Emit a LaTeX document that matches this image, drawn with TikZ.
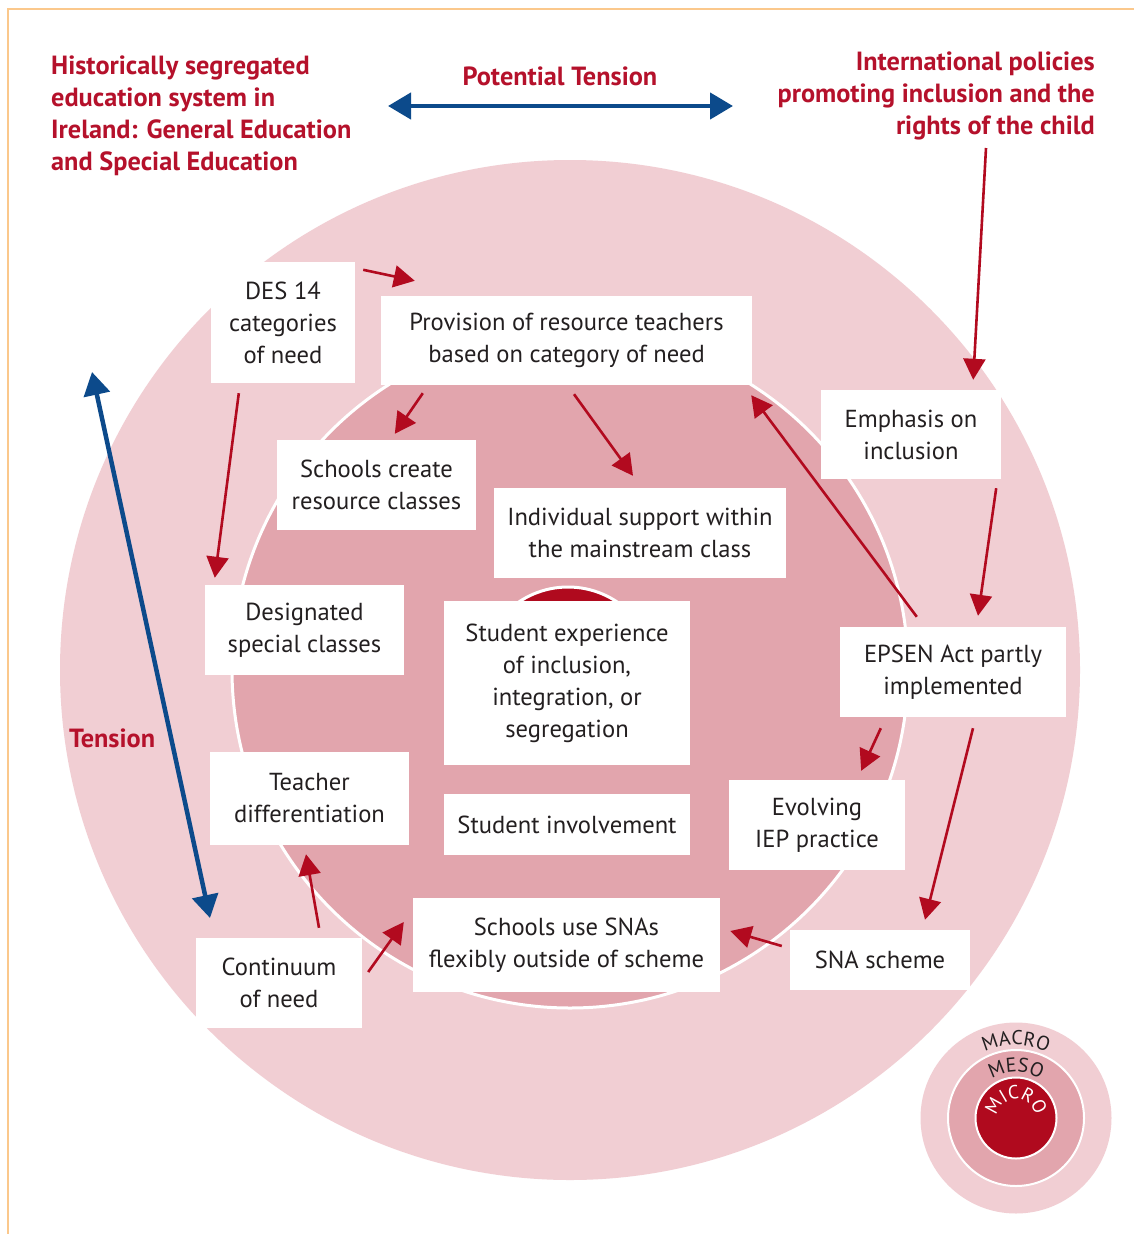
\documentclass[tikz,border=0pt]{standalone}
\usepackage{fontspec}
\setmainfont{PT Sans}
\usetikzlibrary{arrows.meta,calc,decorations.text}
\definecolor{macroC}{RGB}{241,206,211}
\definecolor{mesoC}{RGB}{226,165,173}
\definecolor{microC}{RGB}{176,10,30}
\definecolor{redA}{RGB}{178,10,31}
\definecolor{redT}{RGB}{181,17,43}
\definecolor{blueA}{RGB}{12,74,139}
\definecolor{txt}{RGB}{35,31,32}
\definecolor{frameC}{RGB}{251,200,140}
\begin{document}
\begin{tikzpicture}[x=1pt,y=-1pt,
 box/.style={fill=white, inner sep=0pt, align=center, text=txt, font=\fontsize{24.6}{32}\selectfont},
 titletext/.style={text=redT, inner sep=0pt, font=\bfseries\fontsize{26.3}{32}\selectfont},
 redarrow/.style={draw=redA, line width=2.6pt, -{Triangle[length=21pt,width=22pt]}},
 bluearrow/.style={draw=blueA, line width=4.5pt, {Triangle[length=23pt,width=26pt]}-{Triangle[length=23pt,width=26pt]}},
 ringwhite/.style={draw=white, line width=3pt},
 arclabel/.style={decorate, decoration={text along path, text align=center}},
]
\useasboundingbox (0,0) rectangle (1134,1234);
\fill[white] (0,0) rectangle (1134,1234);
\draw[frameC, line width=1.5pt] (8,1234) -- (8,9) -- (1134,9);

% circles
\fill[macroC] (570,670) circle[radius=510];
\draw[ringwhite, fill=mesoC] (570,670) circle[radius=338];
\draw[ringwhite, fill=microC] (568,675) circle[radius=88];

% titles
\node[titletext, align=left, anchor=west] (hist) at (51,116) {Historically segregated\\education system in\\Ireland: General Education\\and Special Education};
\node[titletext, align=right, anchor=east] (intl) at (1095,96) {International policies\\promoting inclusion and the\\rights of the child};
\node[titletext] (pot) at (560,76) {Potential Tension};
\node[titletext, anchor=west] (tens) at (69,738) {Tension};

% boxes
\node[box, minimum width=144pt, minimum height=121pt] (des) at (283,322.5) {DES 14\\categories\\of need};
\node[box, minimum width=371pt, minimum height=89pt] (prov) at (566.5,340.5) {Provision of resource teachers\\based on category of need};
\node[box, minimum width=199pt, minimum height=90pt] (create) at (376.5,485) {Schools create\\resource classes};
\node[box, minimum width=292pt, minimum height=90pt] (indiv) at (640,533) {Individual support within\\the mainstream class};
\node[box, minimum width=199pt, minimum height=90pt] (desig) at (304.5,630) {Designated\\special classes};
\node[box, minimum width=246pt, minimum height=164pt] (exper) at (567,683) {Student experience\\of inclusion,\\integration, or\\segregation};
\node[box, minimum width=199pt, minimum height=93pt] (teach) at (309.5,798.5) {Teacher\\differentiation};
\node[box, minimum width=246pt, minimum height=61pt] (involve) at (567,824.5) {Student involvement};
\node[box, minimum width=180pt, minimum height=89pt] (emph) at (911,434.5) {Emphasis on\\inclusion};
\node[box, minimum width=226pt, minimum height=90pt] (epsen) at (953,672) {EPSEN Act partly\\implemented};
\node[box, minimum width=176pt, minimum height=90pt] (evolv) at (817,825) {Evolving\\IEP practice};
\node[box, minimum width=180pt, minimum height=60pt] (snasch) at (880,960) {SNA scheme};
\node[box, minimum width=307pt, minimum height=94pt] (snause) at (566.5,945) {Schools use SNAs\\flexibly outside of scheme};
\node[box, minimum width=166pt, minimum height=90pt] (contin) at (279,983) {Continuum\\of need};

% free ends
\coordinate (intlfoot) at (986,148);
\coordinate (ptL) at (388,106);
\coordinate (ptR) at (733,106);
\coordinate (tnT) at (92,372);
\coordinate (tnB) at (210,918);

% blue arrows
\draw[bluearrow] (ptL) -- (ptR);
\draw[bluearrow] (tnT) -- (tnB);

% red arrows
\draw[redarrow] ($(des.north east)+(8,8)$) -- ($(prov.north west)+(34,-15)$);
\draw[redarrow] ($(des.south west)+(28,10)$) -- ($(desig.north west)+(10,-7)$);
\draw[redarrow] ($(prov.south west)+(42,8)$) -- ($(create.north west)+(118,-6)$);
\draw[redarrow] ($(prov.south)+(7.5,9)$) -- ($(indiv.north)+(-7,-12)$);
\draw[redarrow] (intlfoot) -- ($(emph.north east)+(-28,-10)$);
\draw[redarrow] ($(emph.south east)+(-5,9)$) -- ($(epsen.north)+(25,-11)$);
\draw[redarrow] ($(epsen.north west)+(77,-10)$) -- ($(prov.south east)+(-1,10)$);
\draw[redarrow] ($(epsen.south west)+(41,11)$) -- ($(evolv.north east)+(-44,-9)$);
\draw[redarrow] ($(epsen.south)+(20,11)$) -- ($(snasch.north)+(45,-10)$);
\draw[redarrow] ($(snasch.west)+(-8,-14)$) -- ($(snause.east)+(10,-14)$);
\draw[redarrow] ($(contin.east)+(6,-11)$) -- ($(snause.west)+(-9,-23)$);
\draw[redarrow] ($(contin.north)+(40,-10)$) -- ($(teach.south)+(-3.5,9)$);

% legend
\fill[macroC] (1016,1118) circle[radius=95.5];
\draw[draw=white, line width=2pt, fill=mesoC] (1016,1118) circle[radius=68];
\draw[draw=white, line width=2pt, fill=microC] (1016,1118) circle[radius=40.5];
\path[arclabel, decoration={text={|\fontsize{20}{20}\selectfont|MACRO}, text color=txt}]
  (1016,1118) ++(-160:73) arc[start angle=-160, end angle=-20, radius=73];
\path[arclabel, decoration={text={|\fontsize{20}{20}\selectfont|MESO}, text color=txt}]
  (1016,1118) ++(-170:46) arc[start angle=-170, end angle=-10, radius=46];
\path[arclabel, decoration={text={|\fontsize{19}{19}\selectfont|MICRO}, text color=white}]
  (1016,1118) ++(-200:19) arc[start angle=-200, end angle=20, radius=19];
\end{tikzpicture}
\end{document}
